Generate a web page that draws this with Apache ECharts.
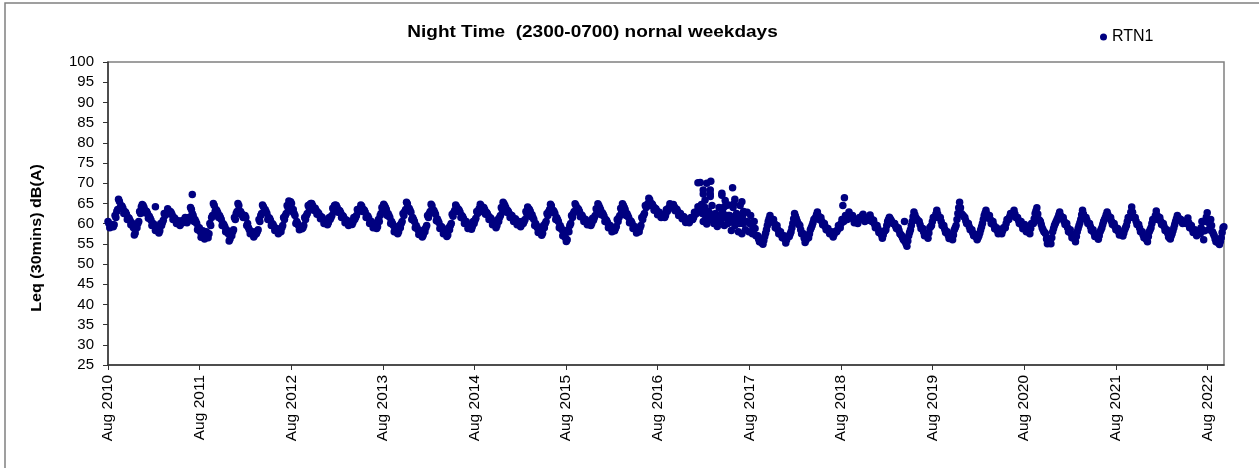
<!DOCTYPE html>
<html>
<head>
<meta charset="utf-8">
<title>Night Time</title>
<script src="https://cdn.jsdelivr.net/npm/echarts@6/dist/echarts.min.js"></script>
<style>
  html, body { margin: 0; padding: 0; background: #fff; }
  #chart { width: 1259px; height: 468px; }
</style>
</head>
<body>
<div id="chart"></div>
<script>
// one reading per week, counted from 1 Aug 2010
var y2010 = [60.5,59.0,59.8,59.2,62.0,63.0,66.0,64.0,64.3,62.5,62.8,61.0,61.3,59.7,59.5,57.2,59.5,60.0,63.0,64.2,64.5,62.7,63.0,61.3,61.3,59.5,59.9,58.3,58.7,57.7,60.0,60.3,62.5,62.3,63.7,62.5,62.7,61.0,61.3,60.0,60.7,59.5,60.7,60.5,61.5,60.2,61.5,64.0,62.5,60.5,60.5,58.5];
var y2011 = [59.0,56.6,58.2,56.2,58.0,56.5,60.0,61.5,65.0,63.0,63.2,61.5,61.5,59.5,59.7,58.0,58.0,55.7,57.5,58.0,61.5,62.5,65.0,62.5,62.5,61.5,62.0,59.5,59.0,57.5,58.0,56.7,58.0,58.0,61.0,62.0,64.6,63.0,63.0,61.0,61.3,59.5,59.8,58.3,58.8,57.5,58.5,59.0,61.5,62.0,64.5,65.6];
var y2012 = [65.4,63.0,62.5,60.0,60.0,58.5,59.2,59.0,61.5,62.0,64.5,64.7,65.0,63.3,63.8,62.3,62.5,61.2,61.5,60.0,60.7,59.7,61.5,61.5,63.8,64.5,64.5,62.8,63.2,61.5,61.8,60.2,60.8,59.5,60.5,59.8,61.5,61.5,63.5,63.3,64.6,63.0,63.3,61.5,61.8,60.0,60.5,59.0,59.7,58.8,61.0,62.0];
var y2013 = [64.0,64.8,64.0,62.0,62.0,60.0,60.0,58.0,58.4,57.5,59.5,60.0,62.5,63.0,65.3,63.3,63.3,61.0,61.0,59.0,59.0,57.3,57.9,56.7,58.5,59.0,62.0,62.5,64.8,62.8,62.8,60.7,60.7,58.8,59.2,57.5,58.0,56.8,59.0,59.5,62.3,62.8,64.6,63.1,63.3,61.5,61.7,60.0,60.5,58.8,59.5,58.6];
var y2014 = [60.5,60.8,63.0,63.3,64.8,63.0,64.0,62.3,62.5,61.0,61.3,59.7,60.3,59.0,61.0,61.5,64.0,65.3,64.5,62.8,63.0,61.5,62.0,60.5,61.2,59.7,60.5,59.2,60.5,60.5,63.0,64.1,63.5,61.7,61.5,59.5,59.5,57.8,58.3,57.1,59.5,60.0,62.5,63.0,64.8,62.8,63.0,61.0,61.0,59.0,59.0,57.0];
var y2015 = [57.0,55.6,58.5,59.5,62.0,62.5,64.9,63.3,63.5,61.7,62.0,60.5,61.0,59.7,60.5,59.5,61.3,61.5,63.7,64.9,64.0,62.2,62.3,60.5,60.7,59.0,59.5,58.0,58.7,58.8,61.0,61.5,63.8,64.9,64.0,62.0,62.0,60.2,60.5,58.8,59.2,57.7,58.5,59.0,61.5,62.0,64.5,64.5,66.3,64.5,64.8,63.3];
var y2016 = [63.7,62.2,62.8,61.5,62.2,61.5,63.5,63.5,64.9,63.9,64.7,63.2,63.5,62.0,62.5,61.2,61.7,60.3,61.1,60.2,61.5,61.0,62.8,62.5,64.2,63.5,64.7,60.5,64.0,59.9,63.0,61.0,64.5,60.0,62.5,59.3,64.0,60.5,63.0,59.5,64.5,60.0,62.0,58.3,64.0,59.5,62.5,58.0,64.5,57.5,63.0,58.5];
var y2017 = [62.8,58.0,62.0,57.5,60.5,57.0,57.0,55.5,55.6,54.9,56.8,58.5,60.5,62.0,60.5,61.0,59.0,59.5,57.5,58.0,56.5,57.0,55.2,56.8,56.8,58.0,60.0,62.5,61.2,60.0,59.5,57.5,57.5,55.3,56.5,56.5,58.5,59.5,61.0,61.5,62.9,61.0,61.5,59.7,60.0,58.5,58.8,57.5,58.0,56.7,58.0,58.0];
var y2018 = [59.5,59.0,61.0,60.5,62.0,61.0,62.9,61.5,62.0,60.2,61.0,60.0,61.5,61.5,62.3,60.5,61.5,60.8,62.1,60.5,60.8,59.0,59.5,57.8,58.0,56.4,58.0,58.5,60.5,61.6,60.8,60.0,60.0,58.8,59.0,57.5,57.0,56.0,55.5,54.4,57.0,58.5,60.5,62.9,61.5,60.8,60.5,58.8,58.8,57.0,57.5,56.4];
var y2019 = [59.0,59.5,61.5,61.5,63.3,61.5,61.5,59.5,59.5,57.8,58.0,56.3,57.0,56.0,58.5,59.5,62.5,65.3,62.5,62.0,61.5,60.0,60.0,58.5,58.5,57.0,57.3,56.0,57.0,58.5,60.0,62.0,63.3,61.5,62.0,60.0,60.5,58.7,59.0,57.5,58.2,57.5,59.0,59.0,61.0,61.0,62.5,62.0,63.3,61.5,61.5,60.0];
var y2020 = [60.5,58.7,59.8,58.0,59.0,57.5,60.0,60.0,62.5,63.9,61.0,60.5,59.0,58.0,57.5,55.0,56.0,55.0,58.0,59.5,60.5,61.5,62.9,61.2,61.5,59.8,60.0,58.0,58.5,56.5,57.0,55.5,58.0,59.5,61.0,63.3,61.5,61.5,60.0,60.0,58.3,58.5,56.8,57.2,56.1,58.0,59.0,60.5,61.5,62.9,61.5,61.5];
var y2021 = [59.8,60.0,58.5,58.8,57.2,57.8,56.9,58.5,59.5,61.5,61.5,64.1,61.5,61.5,59.8,59.8,58.0,58.0,56.5,56.5,55.5,58.0,59.0,61.0,61.0,63.1,61.0,61.5,59.8,60.0,58.3,58.5,56.7,56.2,57.5,59.0,60.5,62.0,61.0,61.0,60.0,60.5,60.0,61.4,59.0,59.5,57.8,58.5,57.0,58.0,57.5,60.5];
var y2022 = [56.0,60.5,62.7,58.5,61.0,58.0,57.0,55.5,55.5,54.8,56.5,59.0];

// a second reading each week, half a week later, read along the middle of the band
var mid2010 = [60,59.5,59.3,59.7,61.5,63.5,65.5,64.5,63.8,63,62.3,61.5,60.8,60.2,59,57.7,59,60.5,62.5,64.7,64,63.2,62.5,61.8,60.8,60,59.4,58.8,58.2,58.2,59.5,60.8,62,62.8,63.2,63,62.2,61.5,60.8,60.5,60.2,60,60.2,61,61,60.7,61,63.5,62,61,60,59];
var mid2011 = [58,57.5,57.2,57,57,57.5,59.5,62,64.5,63.5,62.7,62,61,60,59.2,58.5,57.5,56.2,57,58.5,61,63,64.5,63,62,62,61.5,60,58.5,58,57.5,57.2,57.5,58.5,60.5,62.5,64.2,63.5,62.5,61.5,60.8,60,59.3,58.8,58.3,58,58,59.5,61,62.5,64,65.2];
var mid2012 = [65,63.5,62,60.5,59.5,59,58.7,59.5,61,62.5,64,65,64.5,63.8,63.3,62.8,62,61.7,61,60.5,60.2,60.2,61,62,63.3,64.6,64,63.3,62.7,62,61.3,60.7,60.3,60,60,60.3,61,62,63,63.8,64.3,63.5,62.8,62,61.3,60.5,60,59.5,59.2,59.2,60.5,62.5];
var mid2013 = [63.5,64.4,63.5,62.5,61.5,60.5,59.5,58.5,57.9,58,59,60.5,62,63.5,64.9,63.8,62.8,61.5,60.5,59.5,58.5,57.8,57.4,57.1,58,59.5,61.5,63,64.4,63.3,62.3,61.2,60.2,59.3,58.7,58,57.5,57.2,58.5,60,61.8,63.3,64.2,63.6,62.8,62,61.2,60.5,60,59.3,59,59.3];
var mid2014 = [60,61.3,62.5,63.8,64.4,63.5,63.5,62.8,62,61.5,60.8,60.2,59.8,59.5,60.5,62,63.5,64.9,64,63.3,62.5,62,61.5,61,60.7,60.2,60,59.7,60,61,62.5,63.7,63,62.2,61,60,59,58.3,57.8,57.6,59,60.5,62,63.5,64.4,63.3,62.5,61.5,60.5,59.5,58.5,57.5];
var mid2015 = [56.5,56,58,60,61.5,63,64.5,63.8,63,62.2,61.5,61,60.5,60.2,60,60,60.8,62,63.2,64.5,63.5,62.7,61.8,61,60.2,59.5,59,58.5,58.2,59.3,60.5,62,63.3,64.5,63.5,62.5,61.5,60.7,60,59.3,58.7,58.2,58,59.5,61,62.5,64,65,65.9,65,64.3,63.8];
var mid2016 = [63.2,62.7,62.3,62,61.7,62,63,64,64.4,64.4,64.2,63.7,63,62.5,62,61.7,61.2,60.8,60.6,60.7,61,61.5,62.3,63,63.7,64,62.5,62.3,62,62,62.5,62.3,62,61.5,61.5,61,61.5,62,61.5,61.5,61.5,61.5,61,60.5,61,60.5,60.5,60,60.5,60,60.5,60.5];
var mid2017 = [60.4,60,59.8,59,58.8,57,56.2,55.5,55.2,55.8,57.6,59.5,61.2,61.2,60.8,60,59.2,58.5,57.8,57.2,56.8,56.1,56,56.8,57.4,59,61.2,61.8,60.6,59.8,58.5,57.5,56.4,55.9,56.5,57.5,59,60.2,61.2,62.2,62,61.2,60.6,59.8,59.2,58.6,58.1,57.8,57.3,57.3,58,58.5];
var mid2018 = [59.2,60,60.8,61.2,61.5,62,62.2,61.8,61.1,60.6,60.5,60.8,61.5,61.9,61.4,61,61.2,61.5,61.3,60.7,59.9,59.3,58.7,57.9,57.2,57.2,58.2,59.5,61,61.2,60.4,60,59.4,58.9,58.3,57.3,56.5,55.8,55,55.7,57.8,59.5,61.7,62.2,61.2,60.7,59.7,58.8,57.9,57.3,57,57.7];
var mid2019 = [59.2,60.5,61.5,62.4,62.4,61.5,60.5,59.5,58.6,57.9,57.1,56.6,56.5,57.2,59,61,63.9,63.9,62.2,61.7,60.7,60,59.2,58.5,57.7,57.1,56.6,56.5,57.7,59.2,61,62.6,62.4,61.7,61,60.2,59.6,58.8,58.2,57.8,57.8,58.2,59,60,61,61.7,62.2,62.6,62.4,61.5,60.8,60.2];
var mid2020 = [59.6,59.2,58.9,58.5,58.2,58.8,60,61.2,63.2,62.4,60.8,59.8,58.5,57.8,56.2,55.5,55.5,56.5,58.8,60,61,62.2,62,61.4,60.6,59.9,59,58.2,57.5,56.8,56.2,56.8,58.8,60.2,62.2,62.4,61.5,60.8,60,59.2,58.4,57.7,57,56.6,57,58.5,59.8,61,62.2,62.2,61.5,60.6];
var mid2021 = [59.9,59.2,58.6,58,57.5,57.4,57.7,59,60.5,61.5,62.8,62.8,61.5,60.6,59.8,58.9,58,57.2,56.5,56,56.8,58.5,60,61,62,62,61.2,60.6,59.9,59.2,58.4,57.6,56.5,56.9,58.2,59.8,61.2,61.5,61,60.5,60.2,60.2,60.7,60.2,59.2,58.6,58.1,57.8,57.5,57.8,59,58.2];
var mid2022 = [58.2,61.6,60.6,59.8,59.5,57.5,56.2,55.5,55.2,55.6,57.8,59.2];

// nights that sit off the main band, mostly the loud spell around 2017
var outlierWeeks = [27,48,336,337.3,341,343.3,339,339,343,343,343,349.6,349.6,355.7,351.5,357,361,340,353.4,356.6,351,419.4,418.5,453.6,340.5,342.5,344.5,346.5,348.5,350.5,352.5,354.5,356.5,358.5,360.5,362.5,341.5,345.5,349.5,353.5,357.5,361.5,359.5];
var outlierValues = [64.2,67.2,70.1,70.2,70,70.5,68.3,67.3,68.3,67.3,66.7,67.5,67,68.9,65.7,66,65.4,65.8,64.6,65,64.2,66.4,64.5,60.5,62,62,62,61.5,62,61.5,62,61,61.5,60.5,60.5,60.5,61.5,61.8,62,62,62,62,61];

var firstYear = 2010;
var daysInYear = 365.25;
var lastDay = 4449;   // about 6 Oct 2022

// x is days since 1 Aug 2010
var weekly = [].concat(y2010, y2011, y2012, y2013, y2014, y2015, y2016, y2017, y2018, y2019, y2020, y2021, y2022);
var midweek = [].concat(mid2010, mid2011, mid2012, mid2013, mid2014, mid2015, mid2016, mid2017, mid2018, mid2019, mid2020, mid2021, mid2022);
var data = weekly.map(function (v, i) {
  return [i * 7, v];
});
midweek.forEach(function (v, i) {
  data.push([i * 7 + 3.5, v]);
});
outlierWeeks.forEach(function (w, i) {
  data.push([w * 7, outlierValues[i]]);
});

var fontName = '"Liberation Sans", Arial, sans-serif';
var myChart = echarts.init(document.getElementById('chart'));

var option = {
  animation: false,
  backgroundColor: '#fff',
  legend: {
    left: 1095,
    top: 24,
    icon: 'circle',
    itemWidth: 7,
    itemHeight: 7,
    itemGap: 0,
    textStyle: { fontFamily: fontName, fontSize: 16, color: '#000', padding: [0, 0, 0, 0] },
    data: ['RTN1']
  },
  grid: {
    left: 108,
    right: 35,
    top: 62,
    bottom: 103,
    show: true,
    borderColor: '#808080',
    borderWidth: 1.5
  },
  xAxis: {
    type: 'value',
    min: 0,
    max: lastDay,
    interval: daysInYear,
    splitLine: { show: false },
    axisLine: { lineStyle: { color: '#333', width: 1.5 } },
    axisTick: { show: true, length: 5, lineStyle: { color: '#333' } },
    axisLabel: {
      rotate: 90,
      margin: 10,
      showMaxLabel: false,
      fontFamily: fontName,
      fontSize: 15.5,
      color: '#000',
      formatter: function (value) {
        return 'Aug ' + (firstYear + Math.round(value / daysInYear));
      }
    }
  },
  yAxis: {
    type: 'value',
    min: 25,
    max: 100,
    interval: 5,
    splitLine: { show: false },
    axisLine: { show: true, lineStyle: { color: '#333', width: 1.5 } },
    axisTick: { show: true, length: 5, lineStyle: { color: '#333' } },
    axisLabel: { margin: 14, fontFamily: fontName, fontSize: 15, color: '#000' }
  },
  series: [{
    name: 'RTN1',
    type: 'scatter',
    symbol: 'circle',
    symbolSize: 7.5,
    clip: false,
    itemStyle: { color: '#000080', opacity: 1 },
    data: data
  }],
  graphic: [
    {
      type: 'rect',
      silent: true,
      shape: { x: 5, y: 3, width: 1400, height: 600 },
      style: { fill: 'none', stroke: '#808080', lineWidth: 1.5 }
    },
    {
      // the source picture is a little wider than tall, so stretch this text to suit
      type: 'text',
      silent: true,
      x: 592.5,
      y: 32,
      scaleX: 1.152,
      style: {
        text: 'Night Time  (2300-0700) nornal weekdays',
        fontFamily: fontName,
        fontSize: 16.5,
        fontWeight: 'bold',
        fill: '#000',
        align: 'center',
        verticalAlign: 'middle'
      }
    },
    {
      type: 'text',
      silent: true,
      x: 37,
      y: 238,
      rotation: Math.PI / 2,
      scaleX: 1.11,
      style: {
        text: 'Leq (30mins) dB(A)',
        fontFamily: fontName,
        fontSize: 14.5,
        fontWeight: 'bold',
        fill: '#000',
        align: 'center',
        verticalAlign: 'middle'
      }
    }
  ]
};

myChart.setOption(option);
</script>
</body>
</html>
